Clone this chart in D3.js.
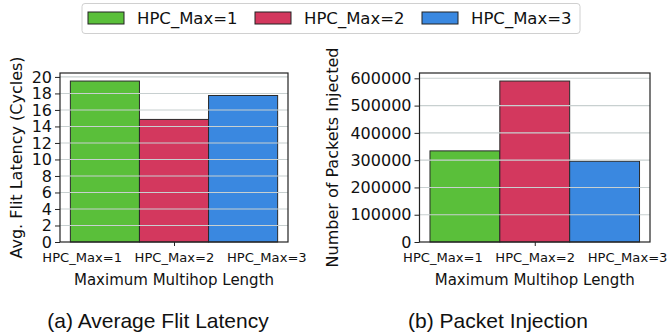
<!DOCTYPE html>
<html><head><meta charset="utf-8">
<script src="https://cdn.jsdelivr.net/npm/d3@7"></script>
<style>
body{margin:0;background:#fff;}
svg{display:block;font-family:"DejaVu Sans",sans-serif;}
</style></head>
<body><svg id="c" width="668" height="334"></svg>
<script>
const categories = ["HPC_Max=1","HPC_Max=2","HPC_Max=3"];
const latencyValues = [19.5, 14.85, 17.75];
const packetValues = [334000, 590000, 296000];
const latencyTicks = [0,2,4,6,8,10,12,14,16,18,20];
const packetTicks = [0,100000,200000,300000,400000,500000,600000];
const colors = ["#5abf3a","#d3385e","#3a88e0"];
const groupLabel = ["Maximum Multihop Length"];
const captions = ["(a) Average Flit Latency","(b) Packet Injection"];
const yLabels = ["Avg. Flit Latency (Cycles)","Number of Packets Injected"];

const svg = d3.select("#c");

function panel(cfg){
  const g = svg.append("g");
  const x = d3.scaleBand().domain(categories).range([cfg.x0,cfg.x1]).paddingInner(0).paddingOuter(0.15);
  const y = d3.scaleLinear().domain([0, d3.max(cfg.values)*1.05]).range([cfg.y1,cfg.y0]);
  // bars
  g.selectAll("rect.bar").data(cfg.values).enter().append("rect")
    .attr("x",(d,i)=>x(categories[i])).attr("width",x.bandwidth())
    .attr("y",d=>y(d)).attr("height",d=>y(0)-y(d))
    .attr("fill",(d,i)=>colors[i]).attr("stroke","#2a2a2a").attr("stroke-width",1);
  // grid over bars
  g.selectAll("line.grid").data(cfg.ticks.filter(t=>t>0)).enter().append("line")
    .attr("x1",cfg.x0).attr("x2",cfg.x1).attr("y1",d=>y(d)).attr("y2",d=>y(d))
    .attr("stroke","#c8d0d0").attr("stroke-width",1.1);
  // frame
  g.append("rect").attr("x",cfg.x0).attr("y",cfg.y0).attr("width",cfg.x1-cfg.x0).attr("height",cfg.y1-cfg.y0)
    .attr("fill","none").attr("stroke","#222").attr("stroke-width",1.2);
  // y axis
  const ya = g.append("g").attr("transform",`translate(${cfg.x0},0)`)
    .call(d3.axisLeft(y).tickValues(cfg.ticks).tickSize(5).tickPadding(3).tickFormat(d3.format("d")));
  ya.select(".domain").remove();
  ya.selectAll("text").attr("font-size",16).attr("font-family","DejaVu Sans").attr("fill","#111");
  ya.selectAll("line").attr("stroke","#222");
  // x axis: single tick in middle (group label lists all categories)
  const xm = d3.scaleLinear().domain([0,1]).range([cfg.x0,cfg.x1]);
  const xa = g.append("g").attr("transform",`translate(0,${cfg.y1})`)
    .call(d3.axisBottom(xm).tickValues([(x(categories[1])+x.bandwidth()/2-cfg.x0)/(cfg.x1-cfg.x0)]).tickSize(4).tickPadding(7)
      .tickFormat(()=>categories.join("\u00a0\u00a0\u00a0")));
  xa.select(".domain").remove();
  xa.selectAll("line").attr("stroke","#222");
  xa.selectAll("text").attr("font-size",13.1).attr("font-family","DejaVu Sans").attr("fill","#111");
  // x title
  g.append("text").attr("x",(cfg.x0+cfg.x1)/2).attr("y",cfg.y1+43).attr("text-anchor","middle")
    .attr("font-size",15).attr("fill","#111").text(groupLabel[0]);
  // y title
  g.append("text").attr("transform",`translate(${cfg.ylx},${(cfg.y0+cfg.y1)/2}) rotate(-90)`)
    .attr("text-anchor","middle").attr("font-size",16).attr("fill","#111").text(cfg.ylabel);
  // caption
  g.append("text").attr("x",cfg.capx).attr("y",328).attr("text-anchor","middle")
    .attr("font-family","Liberation Sans, Arial, sans-serif").attr("font-size",21).attr("fill","#111").text(cfg.caption);
}

panel({x0:60,x1:288,y0:73,y1:242,values:latencyValues,ticks:latencyTicks,ylabel:yLabels[0],ylx:22,caption:captions[0],capx:158});
panel({x0:419.5,x1:650,y0:73,y1:242,values:packetValues,ticks:packetTicks,ylabel:yLabels[1],ylx:338,caption:captions[1],capx:498});

// legend
const lg = svg.append("g");
lg.append("rect").attr("x",82).attr("y",3.5).attr("width",498).attr("height",30).attr("rx",3)
  .attr("fill","#fff").attr("stroke","#d0d0d0").attr("stroke-width",1);
categories.forEach((c,i)=>{
  const ox = 88 + i*167;
  lg.append("rect").attr("x",ox).attr("y",12).attr("width",36).attr("height",12)
    .attr("fill",colors[i]).attr("stroke","#222").attr("stroke-width",1);
  lg.append("text").attr("x",ox+49).attr("y",24).attr("font-size",16.5).attr("fill","#111").text(c);
});
</script></body></html>
